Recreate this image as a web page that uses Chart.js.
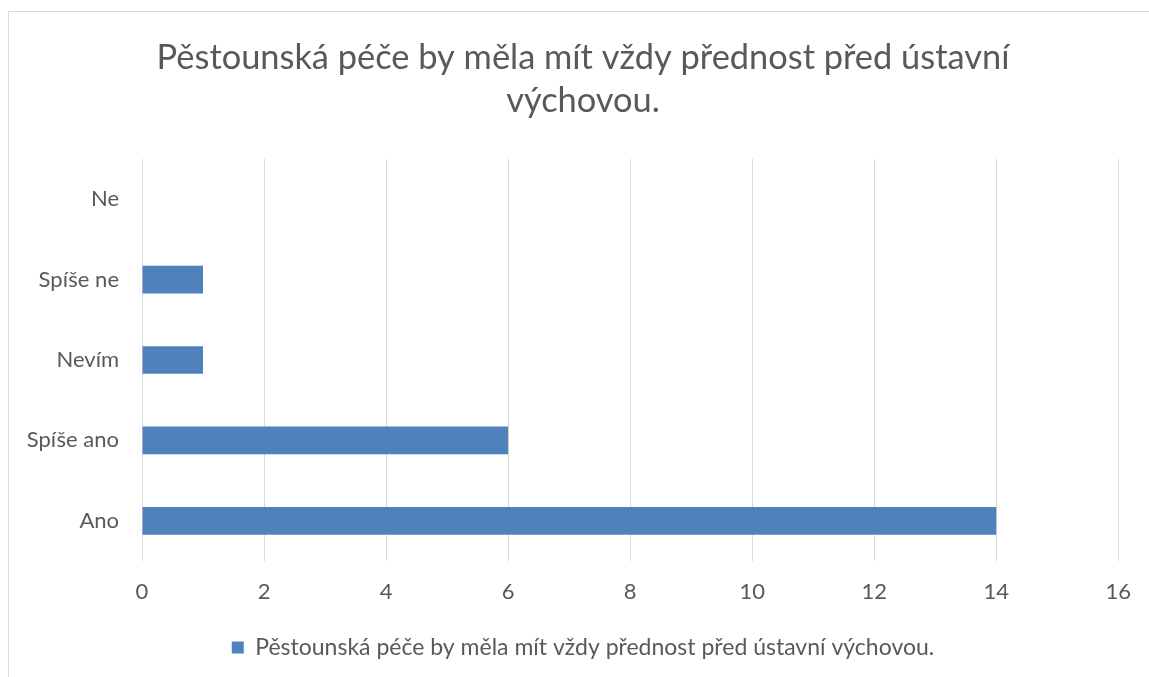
<!DOCTYPE html>
<html>
<head>
<meta charset="utf-8">
<script src="https://cdn.jsdelivr.net/npm/chart.js@4/dist/chart.umd.min.js"></script>
<style>
  html, body { margin: 0; padding: 0; background: #fff; overflow: hidden; }
  #frame { position: absolute; left: 8px; top: 11px; width: 1200px; height: 700px; border: 1px solid #d9d9d9; }
  #wrap { position: absolute; left: 0; top: 0; width: 1149px; height: 677px; }
</style>
</head>
<body>
<div id="frame"></div>
<div id="wrap"><canvas id="barChart"></canvas></div>
<script>
// Odpovědi (shora dolů)
var answers = ["Ne", "Spíše ne", "Nevím", "Spíše ano", "Ano"];
// Počet respondentů
var counts = [0, 1, 1, 6, 14];
var seriesName = "Pěstounská péče by měla mít vždy přednost před ústavní výchovou.";
var titleLines = ["Pěstounská péče by měla mít vždy přednost před ústavní", "výchovou."];
var xMin = 0, xMax = 16, xStep = 2;

var textColor = "#595959";
var barColor = "#4f81bd";
var gridColor = "#d9d9d9";
var fontName = "Lato";

new Chart(document.getElementById("barChart"), {
  type: "bar",
  data: {
    labels: answers,
    datasets: [{
      label: seriesName,
      data: counts,
      backgroundColor: barColor,
      barPercentage: 0.345,
      categoryPercentage: 1
    }]
  },
  options: {
    indexAxis: "y",
    responsive: true,
    maintainAspectRatio: false,
    animation: false,
    layout: { padding: { left: 20, right: 3, top: 0, bottom: 8 } },
    plugins: {
      title: {
        display: true,
        text: titleLines,
        color: textColor,
        font: { family: fontName, size: 34.4, weight: "normal", lineHeight: 1.25 },
        padding: { top: 36, bottom: 37 }
      },
      legend: {
        display: true,
        position: "bottom",
        labels: {
          color: textColor,
          font: { family: fontName, size: 23 },
          boxWidth: 12,
          boxHeight: 12,
          padding: 10
        }
      },
      tooltip: { enabled: false }
    },
    scales: {
      x: {
        min: xMin,
        max: xMax,
        ticks: { stepSize: xStep, color: textColor, font: { family: fontName, size: 22 }, padding: 18 },
        grid: { color: gridColor, lineWidth: 1, drawTicks: false },
        border: { display: false },
        afterFit: function (scale) { scale.height = 65; }
      },
      y: {
        ticks: { color: textColor, font: { family: fontName, size: 22 }, padding: 23 },
        grid: { display: false, drawTicks: false },
        border: { display: false },
        afterFit: function (scale) { scale.width = 122; }
      },
      // prázdná osa vpravo, jen aby nadpis a legenda byly na středu rámečku
      yRight: {
        type: "category",
        position: "right",
        ticks: { display: false },
        grid: { display: false, drawTicks: false },
        border: { display: false },
        afterFit: function (scale) { scale.width = 27; }
      }
    }
  }
});
</script>
</body>
</html>
